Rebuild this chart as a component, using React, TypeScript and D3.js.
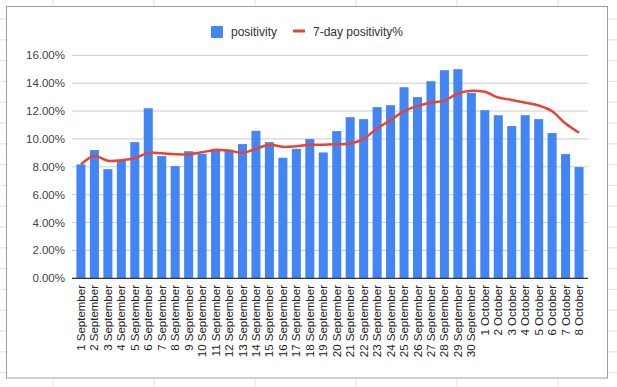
import * as d3 from "d3";

const width = 617;
const height = 387;
const margin = { left: 72, right: 29, top: 55.3, bottom: 108.7 };
const fontFamily = "Arial, 'Liberation Sans', sans-serif";

const dates = [
  "1 September", "2 September", "3 September", "4 September", "5 September",
  "6 September", "7 September", "8 September", "9 September", "10 September",
  "11 September", "12 September", "13 September", "14 September", "15 September",
  "16 September", "17 September", "18 September", "19 September", "20 September",
  "21 September", "22 September", "23 September", "24 September", "25 September",
  "26 September", "27 September", "28 September", "29 September", "30 September",
  "1 October", "2 October", "3 October", "4 October", "5 October",
  "6 October", "7 October", "8 October",
];

// daily positivity, percent
const positivity = [
  8.17, 9.2, 7.83, 8.43, 9.77, 12.2, 8.77, 8.05, 9.12, 8.93,
  9.29, 9.22, 9.63, 10.58, 9.77, 8.65, 9.29, 9.99, 9.03, 10.56,
  11.56, 11.42, 12.28, 12.42, 13.71, 13.0, 14.14, 14.93, 15.0, 13.31,
  12.06, 11.7, 10.92, 11.7, 11.42, 10.42, 8.91, 7.98,
];

// 7-day positivity, percent
const sevenDay = [
  8.17, 8.77, 8.43, 8.47, 8.62, 9.0, 8.97, 8.9, 8.9, 9.05,
  9.2, 9.17, 9.0, 9.29, 9.58, 9.43, 9.48, 9.58, 9.58, 9.62,
  9.67, 10.01, 10.75, 11.35, 11.99, 12.37, 12.6, 12.75, 13.26, 13.45,
  13.38, 12.97, 12.8, 12.6, 12.4, 11.99, 11.1, 10.44,
];

const yTicks = [0, 2, 4, 6, 8, 10, 12, 14, 16];

const sheetCols = d3.range(53, width, 101);
const sheetRows = d3.range(-1.8, height, 20.8);

export default function App() {
  const xScale = d3
    .scaleBand<string>()
    .domain(dates)
    .range([margin.left, width - margin.right])
    .padding(0.33);
  const yScale = d3
    .scaleLinear()
    .domain([0, 16])
    .range([height - margin.bottom, margin.top]);

  const line = d3
    .line<number>()
    .x((_, i) => xScale(dates[i])! + xScale.bandwidth() / 2)
    .y((d) => yScale(d))
    .curve(d3.curveCatmullRom.alpha(0.5));

  return (
    <svg
      width={width}
      height={height}
      style={{ position: "absolute", left: 0, top: 0, background: "#fff" }}
      fontFamily={fontFamily}
    >
      {sheetCols.map((x) => (
        <line key={"c" + x} x1={x} x2={x} y1={0} y2={height} stroke="#e2e2e2" />
      ))}
      {sheetRows.map((y) => (
        <line key={"r" + y} x1={0} x2={width} y1={y} y2={y} stroke="#e2e2e2" />
      ))}
      <rect x={6.5} y={6.5} width={601} height={371.5} fill="#fff" stroke="#9e9e9e" />

      <g>
        <rect x={211} y={26} width={12} height={12} rx={1} fill="#4285f4" />
        <text x={231} y={36} fontSize={12} fill="#333">positivity</text>
        <rect x={293} y={29.5} width={12} height={3} fill="#ea4335" />
        <text x={313} y={36} fontSize={12} fill="#333">7-day positivity%</text>
      </g>

      {yTicks.map((t) => (
        <g key={t}>
          {t > 0 && (
            <line
              x1={margin.left}
              x2={width - margin.right}
              y1={yScale(t)}
              y2={yScale(t)}
              stroke="#cccccc"
            />
          )}
          <text
            x={65}
            y={yScale(t)}
            dy="0.35em"
            textAnchor="end"
            fontSize={11.5}
            fill="#444"
          >
            {t.toFixed(2)}%
          </text>
        </g>
      ))}

      {positivity.map((v, i) => (
        <rect
          key={dates[i]}
          x={xScale(dates[i])}
          y={yScale(v)}
          width={xScale.bandwidth()}
          height={yScale(0) - yScale(v)}
          fill="#4285f4"
        />
      ))}

      <line
        x1={margin.left}
        x2={width - margin.right}
        y1={yScale(0)}
        y2={yScale(0)}
        stroke="#333"
        strokeWidth={1.3}
      />

      <path d={line(sevenDay) ?? ""} fill="none" stroke="#ea4335" strokeWidth={2.5} />

      {dates.map((d) => {
        const cx = xScale(d)! + xScale.bandwidth() / 2;
        return (
          <text
            key={d}
            transform={`translate(${cx},285) rotate(-90)`}
            dy="0.35em"
            textAnchor="end"
            fontSize={11.5}
            fill="#222"
          >
            {d}
          </text>
        );
      })}
    </svg>
  );
}
